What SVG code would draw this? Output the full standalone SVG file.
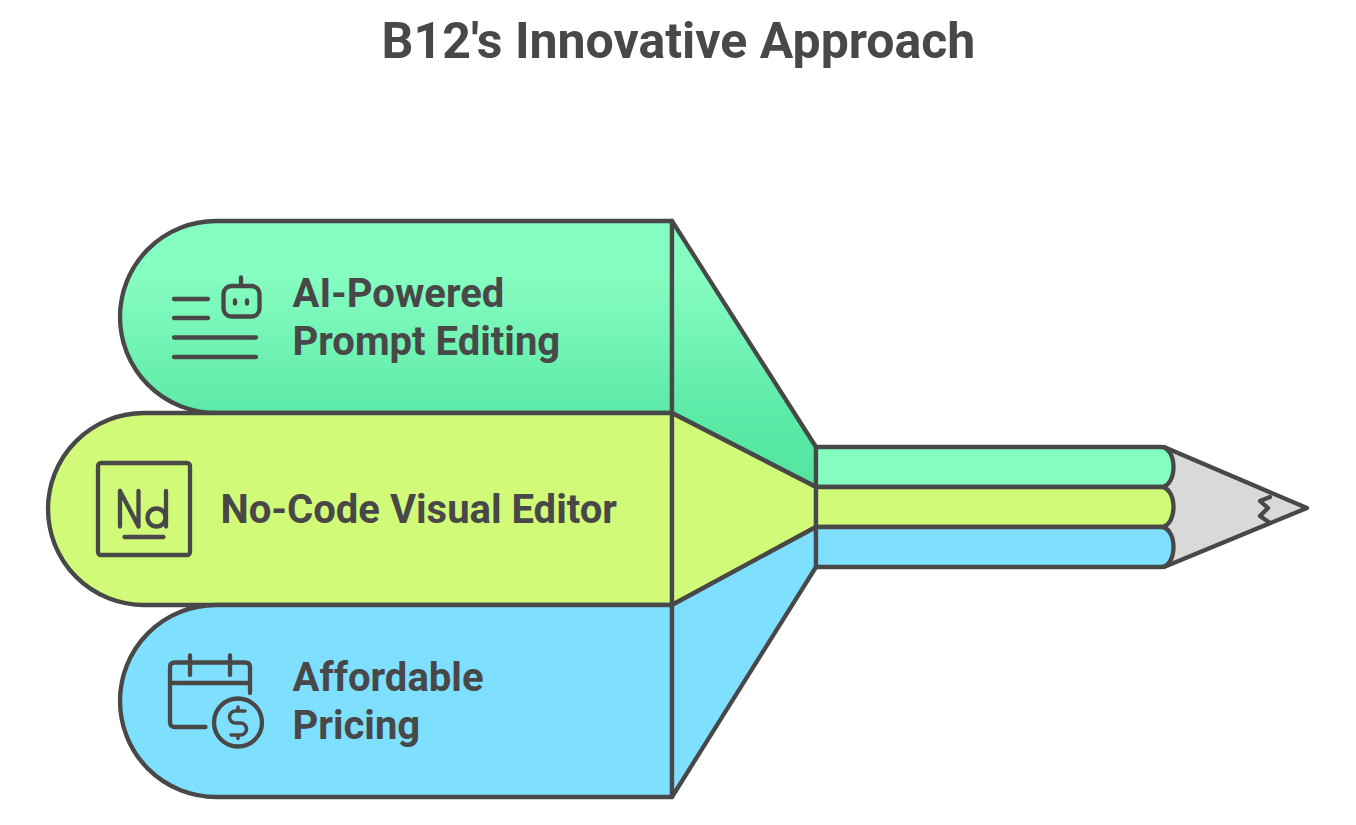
<svg xmlns="http://www.w3.org/2000/svg" width="1356" height="825" viewBox="0 0 1356 825">
<style>
.s{stroke:#484848;stroke-width:4.300;stroke-linejoin:round;stroke-linecap:round}
.i{fill:none;stroke:#484848;stroke-width:4.300;stroke-linejoin:round;stroke-linecap:round}
text{font-family:Roboto,"Liberation Sans",sans-serif;font-weight:700;fill:#484848}
.l{font-size:40px}
.g{fill:url(#gr)}.y{fill:#d1fa78}.b{fill:#7edfff}
</style>
<defs><linearGradient id="gr" gradientUnits="userSpaceOnUse" x1="0" y1="221" x2="0" y2="487"><stop offset="0" stop-color="#86fdc0"/><stop offset="0.2" stop-color="#86fdc0"/><stop offset="0.75" stop-color="#5ae9a6"/><stop offset="1" stop-color="#53e6a1"/></linearGradient></defs>
<rect width="1356" height="825" fill="#ffffff"/>
<text id="title" x="678.5" y="58" text-anchor="middle" font-size="50">B12's Innovative Approach</text>
<g id="pencil-tip">
<path class="s" d="M1164 447L1307 508L1164 567Z" fill="#d9d9d9"/>
<path class="i" d="M1270 497L1260 501L1268 508L1260 516L1270 523"/>
</g>
<g id="node-ai">
<path class="s g" d="M672 221V413H216A96 96 0 0 1 216 221Z"/>
<path class="s g" d="M672 221L816 447V487L672 413Z"/>
<path class="s" fill="#86fdc0" d="M816 447H1161C1169 447 1173.500 457 1173.500 467C1173.500 477 1169 487 1161 487H816Z"/>
<path class="i" d="M174 299H208M174 318H208M174 337.500H256M174 357H256"/>
<rect class="i" x="223.500" y="286" width="36" height="30.500" rx="8"/>
<path class="i" d="M241 277.500V286M235 300.500V303.500M247 300.500V303.500"/>
<text class="l" x="292.500" y="307">AI-Powered</text>
<text class="l" x="292.500" y="355">Prompt Editing</text>
</g>
<g id="node-nocode">
<path class="s y" d="M672 413V605H144A96 96 0 0 1 144 413Z"/>
<path class="s y" d="M672 413L816 487V527L672 605Z"/>
<path class="s y" d="M816 487H1161C1169 487 1173.500 497 1173.500 507C1173.500 517 1169 527 1161 527H816Z"/>
<rect class="i" x="98" y="463" width="92" height="92" rx="3"/>
<path class="i" d="M120 491V526.500M120 491L138.500 526.500V491"/>
<circle class="i" cx="156.500" cy="517.500" r="9"/>
<path class="i" d="M166 491V526.500M124.500 537H163.500"/>
<text class="l" x="220.500" y="523">No-Code Visual Editor</text>
</g>
<g id="node-pricing">
<path class="s b" d="M672 605V797H216A96 96 0 0 1 216 605Z"/>
<path class="s b" d="M672 605L816 527V567L672 797Z"/>
<path class="s b" d="M816 527H1161C1169 527 1173.500 537 1173.500 547C1173.500 557 1169 567 1161 567H816Z"/>
<path class="i" d="M250 693V667Q250 662.500 245 662.500H175Q170 662.500 170 667V722Q170 727 175 727H205.500M170 683H250M190 655.500V675M230 655.500V675"/>
<circle class="i" cx="238" cy="722.500" r="24"/>
<path class="i" style="stroke-width:3.500" d="M245 711H235.500A6 6 0 0 0 235.500 723H240.500A6 6 0 0 1 240.500 735H231M238 707V711M238 735V738.500"/>
<text class="l" x="292.500" y="691">Affordable</text>
<text class="l" x="292.500" y="739">Pricing</text>
</g>
</svg>
